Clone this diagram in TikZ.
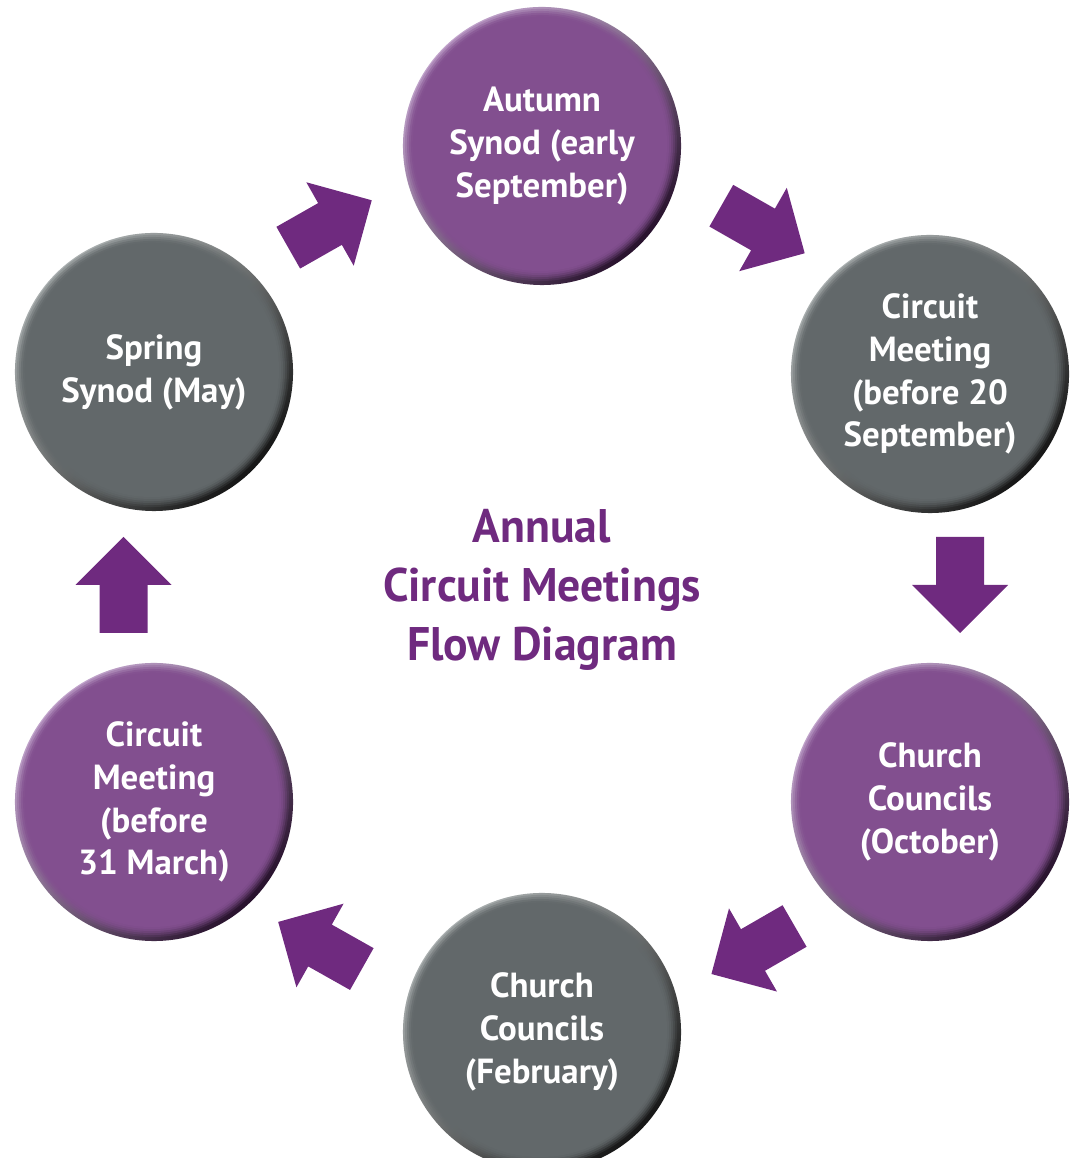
\documentclass[tikz,border=0pt]{standalone}
\usepackage{fontspec}
\setmainfont{PT Sans}
\newfontfamily\titlefont[FakeStretch=0.97]{PT Sans}
\usetikzlibrary{calc}

\definecolor{purplebase}{RGB}{130,79,143}
\definecolor{purplelight}{RGB}{210,186,220}
\definecolor{purpledark}{RGB}{40,18,45}
\definecolor{graybase}{RGB}{98,104,106}
\definecolor{graylight}{RGB}{190,195,195}
\definecolor{graydark}{RGB}{22,22,22}
\definecolor{arrowpurple}{RGB}{111,42,127}

\tikzset{
  bubble/.style n args={3}{circle, minimum size=6.95cm, inner sep=0pt, align=center, text=white,
    font=\fontsize{24.8}{30.5}\selectfont\bfseries,
    path picture={
      \shade[top color=#2, middle color=#1, bottom color=#3, shading angle=45]
        (path picture bounding box.south west) rectangle (path picture bounding box.north east);
      \foreach \rr/\op in {2/0.2,4/0.3,6/0.4,8/0.55,10/0.75,12/1}
        \fill[#1, opacity=\op] ($(path picture bounding box.center)+(-2,2)$) circle[radius=3.475cm-\rr*0.025cm];
    }},
  purplebubble/.style={bubble={purplebase}{purplelight}{purpledark}},
  graybubble/.style={bubble={graybase}{graylight}{graydark}},
  blockarrow/.pic={\fill[arrowpurple] (-48,-24) -- (0,-24) -- (0,-48) -- (48,0) -- (0,48) -- (0,24) -- (-48,24) -- cycle;}
}

\begin{document}
\begin{tikzpicture}[x=0.025cm, y=0.025cm]
	\useasboundingbox (0,0) rectangle (1076,1158);
	\node[purplebubble] (autumn) at (542,1012) {Autumn\\Synod (early\\September)};
	\node[graybubble] (cmsep) at (930,784) {Circuit\\Meeting\\(before 20\\September)};
	\node[purplebubble] (ccoct) at (930,356) {Church\\Councils\\(October)};
	\node[graybubble] (ccfeb) at (542,126) {Church\\Councils\\(February)};
	\node[purplebubble] (cmmar) at (154,356) {Circuit\\Meeting\\(before\\31 March)};
	\node[graybubble] (spring) at (154,786) {Spring\\Synod (May)};
	\node[font=\titlefont\fontsize{33.5}{42}\selectfont\bfseries, text=arrowpurple, align=center] (title) at (542,568) {Annual\\Circuit Meetings\\Flow Diagram};
	\pic[rotate=29.6] at ($(spring)!.5!(autumn)+(-18,35)$) {blockarrow};
	\pic[rotate=-29.7] at ($(autumn)!.5!(cmsep)+(27,30.5)$) {blockarrow};
	\pic[rotate=-90] at ($(cmsep)!.5!(ccoct)+(30,3)$) {blockarrow};
	\pic[rotate=210] at ($(ccoct)!.5!(ccfeb)+(17,-33)$) {blockarrow};
	\pic[rotate=150.6] at ($(ccfeb)!.5!(cmmar)+(-28,-28.5)$) {blockarrow};
	\pic[rotate=90] at ($(cmmar)!.5!(spring)+(-30.5,2)$) {blockarrow};
\end{tikzpicture}
\end{document}
